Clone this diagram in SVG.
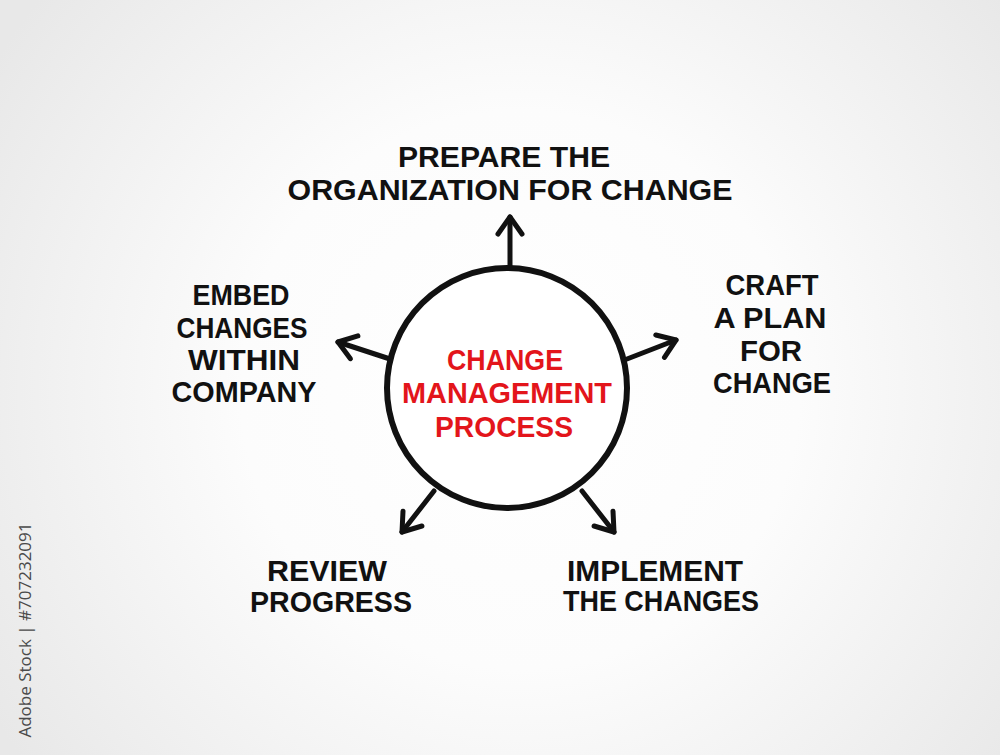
<svg xmlns="http://www.w3.org/2000/svg" width="1000" height="755" viewBox="0 0 1000 755">
  <defs>
    <radialGradient id="bg" cx="520" cy="390" r="620" gradientUnits="userSpaceOnUse">
      <stop offset="0" stop-color="#ffffff"/>
      <stop offset="0.45" stop-color="#fcfcfc"/>
      <stop offset="1" stop-color="#e8e8e8"/>
    </radialGradient>
    <marker id="head" viewBox="-22 -16 26 32" markerWidth="26" markerHeight="32" refX="0" refY="0" orient="auto" markerUnits="userSpaceOnUse">
      <path d="M-17,-12 L0,0 L-17,12" fill="none" stroke="#111" stroke-width="5" stroke-linecap="round" stroke-linejoin="round"/>
    </marker>
    <style>
      .lbl { font-family: "Liberation Sans", Arial, sans-serif; font-weight: bold; font-size: 30px; fill: #111; }
      .ctr { font-family: "Liberation Sans", Arial, sans-serif; font-weight: bold; font-size: 30px; fill: #e3151b; }
      .arr { fill: none; stroke: #111; stroke-width: 5; stroke-linecap: round; marker-end: url(#head); }
      .wm { font-family: "Open Sans", "Liberation Sans", sans-serif; font-size: 17px; fill: #4a4a4a; }
    </style>
  </defs>
  <rect x="0" y="0" width="1000" height="755" fill="url(#bg)"/>

  <g id="connectors">
    <line class="arr" x1="510" y1="268" x2="510" y2="217"/>
    <line class="arr" x1="627" y1="359" x2="676" y2="340"/>
    <line class="arr" x1="390" y1="359" x2="338" y2="342"/>
    <line class="arr" x1="434" y1="491" x2="402" y2="532"/>
    <line class="arr" x1="582" y1="491" x2="614" y2="532"/>
  </g>

  <g id="center">
    <circle cx="507" cy="388" r="120" fill="#ffffff" stroke="#111" stroke-width="6"/>
    <text class="ctr" x="505" y="370" text-anchor="middle" textLength="116" lengthAdjust="spacingAndGlyphs">CHANGE</text>
    <text class="ctr" x="507" y="403" text-anchor="middle" textLength="210" lengthAdjust="spacingAndGlyphs">MANAGEMENT</text>
    <text class="ctr" x="504" y="437" text-anchor="middle" textLength="138" lengthAdjust="spacingAndGlyphs">PROCESS</text>
  </g>

  <g id="prepare">
    <text class="lbl" x="504" y="167" text-anchor="middle" textLength="212" lengthAdjust="spacingAndGlyphs">PREPARE THE</text>
    <text class="lbl" x="510" y="200" text-anchor="middle" textLength="445" lengthAdjust="spacingAndGlyphs">ORGANIZATION FOR CHANGE</text>
  </g>

  <g id="craft">
    <text class="lbl" x="772" y="295" text-anchor="middle" textLength="93" lengthAdjust="spacingAndGlyphs">CRAFT</text>
    <text class="lbl" x="770" y="328" text-anchor="middle" textLength="113" lengthAdjust="spacingAndGlyphs">A PLAN</text>
    <text class="lbl" x="771" y="361" text-anchor="middle" textLength="62" lengthAdjust="spacingAndGlyphs">FOR</text>
    <text class="lbl" x="772" y="393" text-anchor="middle" textLength="118" lengthAdjust="spacingAndGlyphs">CHANGE</text>
  </g>

  <g id="embed">
    <text class="lbl" x="241" y="305" text-anchor="middle" textLength="97" lengthAdjust="spacingAndGlyphs">EMBED</text>
    <text class="lbl" x="242" y="338" text-anchor="middle" textLength="131" lengthAdjust="spacingAndGlyphs">CHANGES</text>
    <text class="lbl" x="244" y="370" text-anchor="middle" textLength="112" lengthAdjust="spacingAndGlyphs">WITHIN</text>
    <text class="lbl" x="244" y="402" text-anchor="middle" textLength="145" lengthAdjust="spacingAndGlyphs">COMPANY</text>
  </g>

  <g id="review">
    <text class="lbl" x="327" y="581" text-anchor="middle" textLength="120" lengthAdjust="spacingAndGlyphs">REVIEW</text>
    <text class="lbl" x="331" y="612" text-anchor="middle" textLength="162" lengthAdjust="spacingAndGlyphs">PROGRESS</text>
  </g>

  <g id="implement">
    <text class="lbl" x="655" y="581" text-anchor="middle" textLength="176" lengthAdjust="spacingAndGlyphs">IMPLEMENT</text>
    <text class="lbl" x="661" y="611" text-anchor="middle" textLength="196" lengthAdjust="spacingAndGlyphs">THE CHANGES</text>
  </g>

  <text class="wm" transform="translate(31,630) rotate(-90)" text-anchor="middle">Adobe Stock | #707232091</text>
</svg>
